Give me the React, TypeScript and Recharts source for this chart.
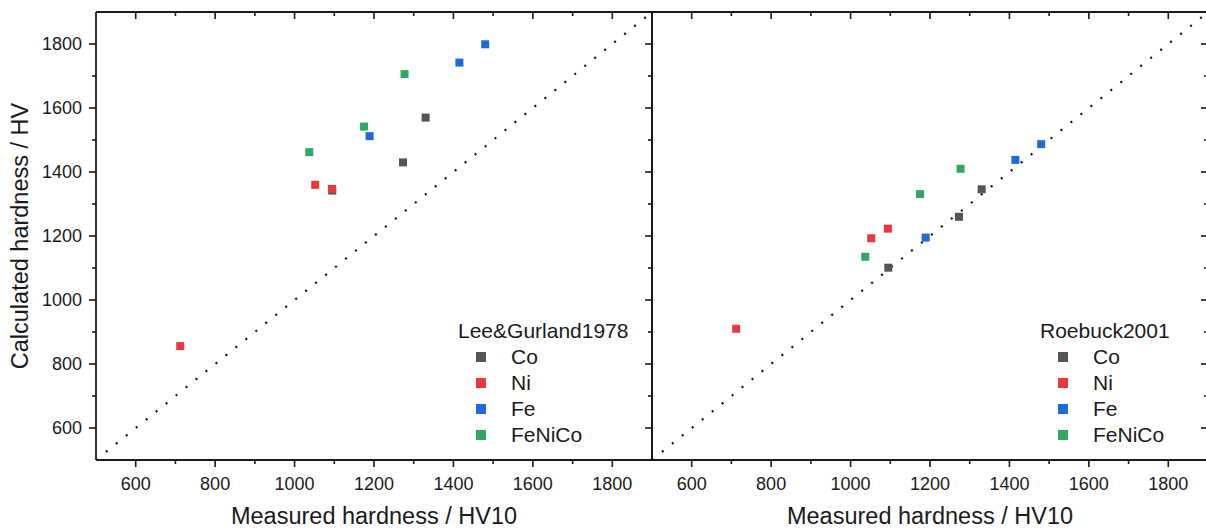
import { ScatterChart, Scatter, XAxis, YAxis, ZAxis, ReferenceLine, Legend } from "recharts";

// measured hardness (HV10), shared by both panels
const measuredCo = [1095, 1273, 1330];
const measuredNi = [712, 1052, 1094];
const measuredFe = [1189, 1415, 1480];
const measuredFeNiCo = [1037, 1175, 1277];

// calculated hardness, Lee & Gurland model
const leeCo = [1342, 1430, 1570];
const leeNi = [856, 1360, 1347];
const leeFe = [1512, 1742, 1799];
const leeFeNiCo = [1462, 1542, 1706];

// calculated hardness, Roebuck model
const roebuckCo = [1101, 1260, 1346];
const roebuckNi = [910, 1193, 1223];
const roebuckFe = [1195, 1438, 1487];
const roebuckFeNiCo = [1135, 1331, 1410];

const seriesNames = ["Co", "Ni", "Fe", "FeNiCo"];
const seriesColors = ["#555555", "#e83a3c", "#1c6bd8", "#2fa865"];
const majorTicks = [600, 800, 1000, 1200, 1400, 1600, 1800];
const minorTicks = [700, 900, 1100, 1300, 1500, 1700];
const axisDomain = [500, 1900];
const panelTitles = ["Lee&Gurland1978", "Roebuck2001"];

const allTicks = [...majorTicks, ...minorTicks].sort((a, b) => a - b);
const FONT = '"Liberation Sans", Arial, sans-serif';
const INK = "#1a1a1a";

const measured = [measuredCo, measuredNi, measuredFe, measuredFeNiCo];

function toPoints(xs: number[], ys: number[]) {
  return xs.map((x, i) => ({ x, y: ys[i] }));
}

function makeTick(side: "bottom" | "top" | "left" | "right", showLabel: boolean) {
  return (props: any) => {
    const { x, y, payload } = props;
    const major = majorTicks.includes(payload.value);
    const len = major ? 7 : 4;
    let line = null;
    let label = null;
    if (side === "bottom") {
      line = <line x1={x} y1={y} x2={x} y2={y + len} />;
      if (showLabel && major)
        label = (
          <text x={x} y={y + 24} textAnchor="middle" dominantBaseline="central">
            {payload.value}
          </text>
        );
    } else if (side === "top") {
      line = <line x1={x} y1={y} x2={x} y2={y + len} />;
    } else if (side === "left") {
      line = <line x1={x - len} y1={y} x2={x} y2={y} />;
      if (showLabel && major)
        label = (
          <text x={x - 14} y={y} textAnchor="end" dominantBaseline="central">
            {payload.value}
          </text>
        );
    } else {
      line = <line x1={x - len} y1={y} x2={x} y2={y} />;
    }
    return (
      <g stroke={INK} strokeWidth={1.6}>
        {line}
        {label && (
          <g stroke="none" fill={INK} fontSize={18} fontFamily={FONT}>
            {label}
          </g>
        )}
      </g>
    );
  };
}

// legend keeps the plotting order of the series, not alphabetical
function renderLegend(title: string) {
  return () => (
    <div style={{ fontFamily: FONT, fontSize: 21, color: INK, lineHeight: "26px" }}>
      <div>{title}</div>
      {seriesNames.map((n, i) => (
        <div key={n} style={{ display: "flex", alignItems: "center", height: 26 }}>
          <span
            style={{
              display: "inline-block",
              width: 10,
              height: 10,
              background: seriesColors[i],
              marginLeft: 18,
              marginRight: 25,
            }}
          />
          <span>{n}</span>
        </div>
      ))}
    </div>
  );
}

interface PanelProps {
  calc: number[][];
  title: string;
  first: boolean;
  left: number;
  legendLeft: number;
}

function Panel({ calc, title, first, left, legendLeft }: PanelProps) {
  const yAxisWidth = first ? 96 : 1;
  const width = yAxisWidth + 556 + 1;
  const axisLine = { stroke: INK, strokeWidth: 1.8 };
  return (
    <div style={{ position: "absolute", left, top: 0 }}>
      <ScatterChart width={width} height={529} margin={{ top: 11, right: 0, bottom: 0, left: 0 }}>
        <XAxis
          xAxisId="b"
          type="number"
          dataKey="x"
          domain={axisDomain}
          ticks={allTicks}
          interval={0}
          allowDataOverflow
          orientation="bottom"
          height={69}
          tickSize={0}
          tickMargin={0}
          tickLine={false}
          axisLine={axisLine}
          tick={makeTick("bottom", true)}
          label={{
            value: "Measured hardness / HV10",
            position: "insideBottom",
            offset: 5,
            style: { fontSize: 23.5, fontFamily: FONT, fill: INK },
          }}
        />
        <XAxis
          xAxisId="t"
          type="number"
          dataKey="x"
          domain={axisDomain}
          ticks={allTicks}
          interval={0}
          allowDataOverflow
          orientation="top"
          height={1}
          tickSize={0}
          tickMargin={0}
          tickLine={false}
          axisLine={axisLine}
          tick={makeTick("top", false)}
        />
        <YAxis
          yAxisId="l"
          type="number"
          dataKey="y"
          domain={axisDomain}
          ticks={allTicks}
          interval={0}
          allowDataOverflow
          orientation="left"
          width={yAxisWidth}
          tickSize={0}
          tickMargin={0}
          tickLine={false}
          axisLine={axisLine}
          tick={first ? makeTick("left", true) : false}
          label={
            first
              ? {
                  value: "Calculated hardness / HV",
                  angle: -90,
                  position: "insideLeft",
                  offset: 20,
                  style: { fontSize: 23.5, fontFamily: FONT, fill: INK, textAnchor: "middle" },
                }
              : undefined
          }
        />
        <YAxis
          yAxisId="r"
          type="number"
          dataKey="y"
          domain={axisDomain}
          ticks={allTicks}
          interval={0}
          allowDataOverflow
          orientation="right"
          width={1}
          tickSize={0}
          tickMargin={0}
          tickLine={false}
          axisLine={axisLine}
          tick={makeTick("right", false)}
        />
        <ZAxis range={[100, 100]} />
        {seriesNames.map((name, i) => (
          <Scatter
            key={name}
            name={name}
            xAxisId="b"
            yAxisId="l"
            data={toPoints(measured[i], calc[i])}
            fill={seriesColors[i]}
            shape="square"
            isAnimationActive={false}
          />
        ))}
        <ReferenceLine
          xAxisId="b"
          yAxisId="l"
          segment={[
            { x: axisDomain[0], y: axisDomain[0] },
            { x: axisDomain[1], y: axisDomain[1] },
          ]}
          stroke="#111"
          strokeWidth={2.2}
          strokeDasharray="2 10.8"
          ifOverflow="visible"
        />
        <Legend
          layout="horizontal"
          verticalAlign="middle"
          align="center"
          wrapperStyle={{ left: legendLeft, top: 318, bottom: "auto", right: "auto", width: "auto" }}
          content={renderLegend(title)}
        />
      </ScatterChart>
    </div>
  );
}

export default function App() {
  return (
    <div
      style={{
        position: "absolute",
        left: 0,
        top: 0,
        width: 1206,
        height: 529,
        overflow: "hidden",
        background: "#fff",
      }}
    >
      <Panel calc={[leeCo, leeNi, leeFe, leeFeNiCo]} title={panelTitles[0]} first left={0} legendLeft={458} />
      <Panel
        calc={[roebuckCo, roebuckNi, roebuckFe, roebuckFeNiCo]}
        title={panelTitles[1]}
        first={false}
        left={651}
        legendLeft={389}
      />
    </div>
  );
}
